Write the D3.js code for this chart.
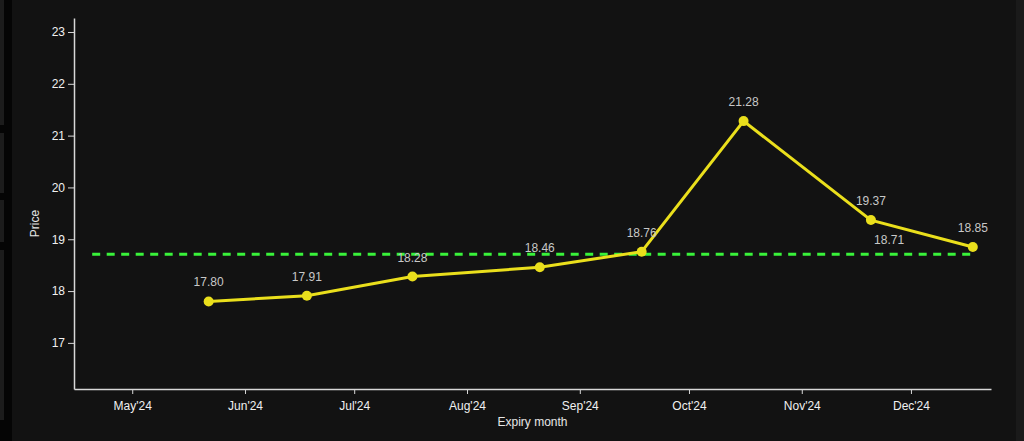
<!DOCTYPE html>
<html>
<head>
<meta charset="utf-8">
<script src="https://cdn.jsdelivr.net/npm/d3@7"></script>
<style>
  html, body { margin: 0; padding: 0; background: #121212; overflow: hidden; }
  svg { display: block; font-family: "Liberation Sans", Arial, sans-serif; }
</style>
</head>
<body>
<svg width="1024" height="441"></svg>
<script>
// VIX futures term structure
const expiries = ["2024-05-22","2024-06-18","2024-07-17","2024-08-21","2024-09-18","2024-10-16","2024-11-20","2024-12-18"];
const prices   = [17.80, 17.91, 18.28, 18.46, 18.76, 21.28, 19.37, 18.85];
const spot = 18.71;
const spotFrom = "2024-04-20";
const yTicks = [17, 18, 19, 20, 21, 22, 23];

const parse = d3.timeParse("%Y-%m-%d");
const data = expiries.map((d, i) => ({date: parse(d), price: prices[i]}));

const svg = d3.select("svg");
const width = 1024, height = 441;
const mLeft = 74, mRight = 991, mTop = 18, mBottom = 389;

// bande sombre à gauche, panneau à droite
svg.append("rect").attr("x", 0).attr("y", 0).attr("width", 12).attr("height", height).attr("fill", "#050505");
[[0, 125], [133, 60], [200, 42], [250, 170]].forEach(([yy, h]) =>
  svg.append("rect").attr("x", 0).attr("y", yy).attr("width", 4).attr("height", h).attr("fill", "#1c1c1c"));
svg.append("rect").attr("x", 1016).attr("y", 0).attr("width", 8).attr("height", height).attr("fill", "#1a1a1a");

const x = d3.scaleTime()
  .domain([parse("2024-04-15"), parse("2024-12-23")])
  .range([mLeft, mRight]);
const y = d3.scaleLinear()
  .domain([16.11, 23.27])
  .range([mBottom, mTop]);

// axes
const xAxis = svg.append("g")
  .attr("transform", `translate(0,${mBottom})`)
  .call(d3.axisBottom(x).ticks(d3.timeMonth.every(1)).tickFormat(d3.timeFormat("%b'%y")).tickSize(5).tickSizeOuter(0));
const yAxis = svg.append("g")
  .attr("transform", `translate(${mLeft},0)`)
  .call(d3.axisLeft(y).tickValues(yTicks).tickSize(6).tickSizeOuter(0));

[xAxis, yAxis].forEach(a => {
  a.select(".domain").attr("stroke", "#d8d8d8").attr("stroke-width", 1.5);
  a.selectAll(".tick line").attr("stroke", "#d8d8d8");
  a.selectAll(".tick text").attr("fill", "#f0f0f0").attr("font-size", 12);
});
xAxis.selectAll(".tick text").attr("dy", "1.05em");

// titres des axes
svg.append("text")
  .attr("x", (mLeft + mRight) / 2).attr("y", 426)
  .attr("text-anchor", "middle").attr("fill", "#e6e6e6").attr("font-size", 12)
  .text("Expiry month");
svg.append("text")
  .attr("transform", `translate(39,${(mTop + mBottom) / 2 + 20}) rotate(-90)`)
  .attr("text-anchor", "middle").attr("fill", "#e6e6e6").attr("font-size", 12)
  .text("Price");

// ligne du spot
svg.append("line")
  .attr("x1", x(parse(spotFrom))).attr("x2", x(data[data.length - 1].date))
  .attr("y1", y(spot)).attr("y2", y(spot))
  .attr("stroke", "#39f23a").attr("stroke-width", 3)
  .attr("stroke-dasharray", "8,6.5");
svg.append("text")
  .attr("x", x(parse("2024-11-25"))).attr("y", y(spot) - 10)
  .attr("text-anchor", "middle").attr("fill", "#c8c8c8").attr("font-size", 12)
  .text(spot.toFixed(2));

// courbe des futures
svg.append("path")
  .datum(data)
  .attr("d", d3.line().x(d => x(d.date)).y(d => y(d.price)))
  .attr("fill", "none").attr("stroke", "#eadf1c").attr("stroke-width", 3);

svg.selectAll("circle.pt")
  .data(data).enter().append("circle")
  .attr("class", "pt")
  .attr("cx", d => x(d.date)).attr("cy", d => y(d.price))
  .attr("r", 5).attr("fill", "#eadf1c");

svg.selectAll("text.lbl")
  .data(data).enter().append("text")
  .attr("class", "lbl")
  .attr("x", d => x(d.date)).attr("y", d => y(d.price) - 15)
  .attr("text-anchor", "middle").attr("fill", "#c8c8c8").attr("font-size", 12)
  .text(d => d.price.toFixed(2));
</script>
</body>
</html>
